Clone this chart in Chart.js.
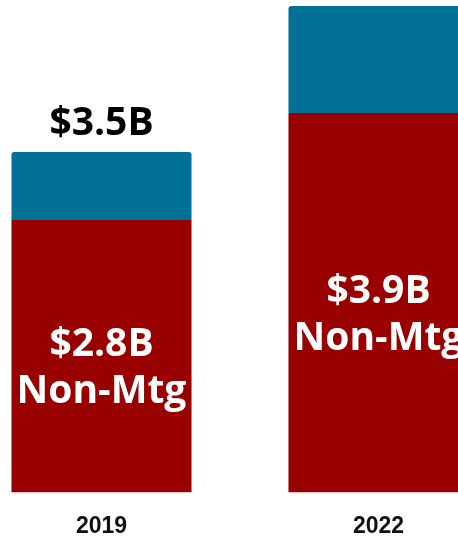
<!DOCTYPE html>
<html>
<head>
<meta charset="utf-8">
<script src="https://cdn.jsdelivr.net/npm/chart.js@4"></script>
<style>
    html, body { margin: 0; padding: 0; background: #fff; overflow: hidden; }
    body { width: 458px; height: 537px; position: relative; }
    #wrap { position: absolute; left: -37px; top: 0; width: 554px; height: 560px; }
</style>
</head>
<body>
<div id="wrap"><canvas id="chart"></canvas></div>
<script>
// Revenue by year, in $B
const years = ['2019', '2022'];
const nonMortgage = [2.8, 3.9];
const mortgage = [0.7, 1.1];
const totalLabels = ['$3.5B', null];
const innerLabels = ['$2.8B', '$3.9B'];
const innerSubLabel = 'Non-Mtg';

const RED = '#990000';
const BLUE = '#007196';

// Draw the value text on the bars
const barLabels = {
    id: 'barLabels',
    afterDatasetsDraw(chart) {
        const ctx = chart.ctx;
        const bottomBars = chart.getDatasetMeta(0).data;
        const topBars = chart.getDatasetMeta(1).data;
        ctx.save();
        ctx.textAlign = 'center';
        ctx.textBaseline = 'alphabetic';

        // non-mortgage value inside the red segment
        ctx.fillStyle = '#ffffff';
        ctx.font = 'bold 39px "Open Sans", sans-serif';
        bottomBars.forEach((bar, i) => {
            const mid = (bar.y + bar.base) / 2;
            ctx.fillText(innerLabels[i], bar.x, mid);
            ctx.fillText(innerSubLabel, bar.x, mid + 47);
        });

        // total above the stack
        ctx.fillStyle = '#000000';
        topBars.forEach((bar, i) => {
            if (totalLabels[i]) ctx.fillText(totalLabels[i], bar.x, bar.y - 17);
        });
        ctx.restore();
    }
};

new Chart(document.getElementById('chart'), {
    type: 'bar',
    data: {
        labels: years,
        datasets: [
            {
                label: 'Non-Mortgage',
                data: nonMortgage,
                backgroundColor: RED,
                barPercentage: 0.65,
                categoryPercentage: 1
            },
            {
                label: 'Mortgage',
                data: mortgage,
                backgroundColor: BLUE,
                borderRadius: { topLeft: 3, topRight: 3, bottomLeft: 0, bottomRight: 0 },
                barPercentage: 0.65,
                categoryPercentage: 1
            }
        ]
    },
    options: {
        responsive: true,
        maintainAspectRatio: false,
        animation: false,
        layout: { padding: { top: 6, bottom: 0, left: 0, right: 0 } },
        plugins: {
            legend: { display: false },
            tooltip: { enabled: false }
        },
        scales: {
            x: {
                stacked: true,
                grid: { display: false, drawTicks: false },
                border: { display: false },
                ticks: {
                    color: '#111',
                    padding: 20,
                    font: { family: '"Liberation Sans", Arial, sans-serif', size: 23, weight: 'bold' }
                }
            },
            y: {
                stacked: true,
                display: false,
                min: 0,
                max: 5.0
            }
        }
    },
    plugins: [barLabels]
});
</script>
</body>
</html>
